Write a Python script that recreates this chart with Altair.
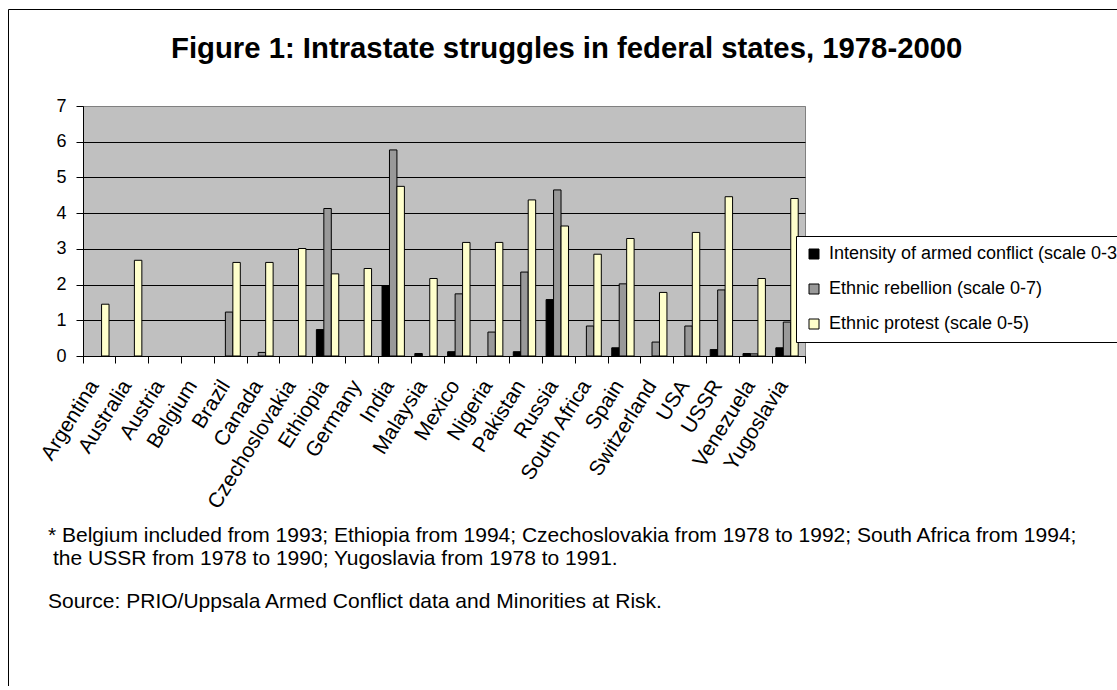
import altair as alt
import pandas as pd

countries = ["Argentina", "Australia", "Austria", "Belgium", "Brazil", "Canada",
             "Czechoslovakia", "Ethiopia", "Germany", "India", "Malaysia", "Mexico",
             "Nigeria", "Pakistan", "Russia", "South Africa", "Spain", "Switzerland",
             "USA", "USSR", "Venezuela", "Yugoslavia"]

armed = [None, None, None, None, None, None, None, 0.74, None, 1.97, 0.07, 0.12,
         None, 0.12, 1.58, None, 0.23, None, None, 0.18, 0.07, 0.23]
rebellion = [None, None, None, None, 1.23, 0.10, None, 4.13, None, 5.77, None, 1.74,
             0.67, 2.35, 4.65, 0.84, 2.02, 0.39, 0.84, 1.85, 0.06, 0.95]
protest = [1.45, 2.68, None, None, 2.62, 2.62, 3.01, 2.30, 2.45, 4.75, 2.17, 3.18,
           3.18, 4.37, 3.64, 2.85, 3.29, 1.78, 3.46, 4.46, 2.17, 4.41]

series_names = ["Intensity of armed conflict (scale 0-3)",
                "Ethnic rebellion (scale 0-7)",
                "Ethnic protest (scale 0-5)"]
series_colors = ["#000000", "#999999", "#FFFFCC"]

title_text = "Figure 1: Intrastate struggles in federal states, 1978-2000"
note_line1 = "* Belgium included from 1993; Ethiopia from 1994; Czechoslovakia from 1978 to 1992; South Africa from 1994;"
note_line2 = "the USSR from 1978 to 1990; Yugoslavia from 1978 to 1991."
source_text = "Source: PRIO/Uppsala Armed Conflict data and Minorities at Risk."

rows = []
for name, vals in zip(series_names, [armed, rebellion, protest]):
    for c, v in zip(countries, vals):
        rows.append({"country": c, "series": name, "value": v})
df = pd.DataFrame(rows)

FONT = "Liberation Sans"
W, H = 722, 250
PL, PT = 83, 106
TOTAL_W, TOTAL_H = 1117, 686

bars = alt.Chart(df).mark_bar(stroke="black", strokeWidth=1).encode(
    x=alt.X("country:N", sort=countries, title=None,
            scale=alt.Scale(paddingInner=0, paddingOuter=0),
            axis=alt.Axis(labelAngle=-58, labelAlign="right", labelBaseline="alphabetic",
                          labelFont=FONT, labelFontSize=21, labelColor="black",
                          labelPadding=22, tickSize=7, tickColor="black",
                          domainColor="black", bandPosition=1, tickExtra=True,
                          labelLimit=400, labelOverlap=False)),
    xOffset=alt.XOffset("series:N", sort=series_names,
                        scale=alt.Scale(paddingInner=0, paddingOuter=0.7, align=0.35)),
    y=alt.Y("value:Q", title=None,
            scale=alt.Scale(domain=[0, 7], nice=False),
            axis=alt.Axis(values=[0, 1, 2, 3, 4, 5, 6, 7], labelFont=FONT,
                          labelFontSize=18, labelColor="black", labelPadding=10,
                          tickSize=7, tickColor="black", domainColor="black",
                          grid=True,
                          gridColor={"condition": {"test": "datum.value === 7", "value": "#808080"},
                                     "value": "#000000"},
                          gridOpacity=1)),
    color=alt.Color("series:N", sort=series_names,
                    scale=alt.Scale(domain=series_names, range=series_colors),
                    legend=alt.Legend(orient="none", legendX=713, legendY=130, title=None,
                                      fillColor="white", strokeColor="black",
                                      padding=9, rowPadding=17, cornerRadius=0,
                                      labelFont=FONT, labelFontSize=18, labelColor="black",
                                      labelLimit=600, labelOffset=6,
                                      symbolType="square", symbolSize=100,
                                      symbolStrokeColor="black", symbolStrokeWidth=1,
                                      symbolOpacity=1)),
)

title = alt.Chart(pd.DataFrame({"t": [title_text]})).mark_text(
    font=FONT, fontSize=29.3, fontWeight="bold", align="left",
    baseline="alphabetic", color="black").encode(
    text="t:N", x=alt.value(171 - PL), y=alt.value(58 - PT))

n1 = alt.Chart(pd.DataFrame({"t": [note_line1]})).mark_text(
    font=FONT, fontSize=21, align="left", baseline="alphabetic", color="black").encode(
    text="t:N", x=alt.value(48 - PL), y=alt.value(542 - PT))
n2 = alt.Chart(pd.DataFrame({"t": [note_line2]})).mark_text(
    font=FONT, fontSize=21, align="left", baseline="alphabetic", color="black").encode(
    text="t:N", x=alt.value(53 - PL), y=alt.value(565 - PT))
src = alt.Chart(pd.DataFrame({"t": [source_text]})).mark_text(
    font=FONT, fontSize=21, align="left", baseline="alphabetic", color="black").encode(
    text="t:N", x=alt.value(48 - PL), y=alt.value(608 - PT))

frame_data = pd.DataFrame({"k": [1]})
left_border = alt.Chart(frame_data).mark_rule(color="black", strokeWidth=1).encode(
    x=alt.value(8.5 - PL), y=alt.value(9.5 - PT), y2=alt.value(TOTAL_H - PT))
top_border = alt.Chart(frame_data).mark_rule(color="black", strokeWidth=1).encode(
    x=alt.value(8.5 - PL), x2=alt.value(TOTAL_W - PL), y=alt.value(9.5 - PT))

chart = alt.layer(bars, title, n1, n2, src, left_border, top_border).properties(
    width=W, height=H,
    autosize=alt.AutoSizeParams(type="none"),
    padding={"left": PL, "top": PT, "right": TOTAL_W - PL - W, "bottom": TOTAL_H - PT - H},
    background="white",
).configure_view(fill="#C0C0C0", stroke="#808080", strokeWidth=1)

chart.save("out.html", embed_options={"renderer": "svg", "actions": False})
